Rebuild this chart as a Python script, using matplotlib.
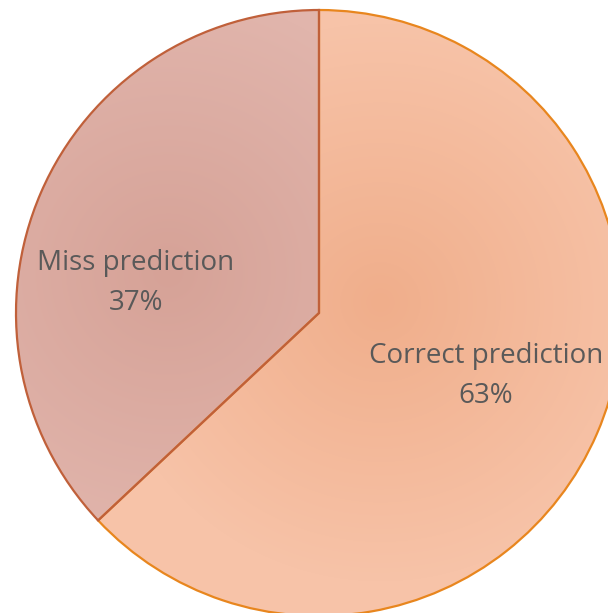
import numpy as np
import matplotlib.pyplot as plt
from matplotlib.colors import LinearSegmentedColormap

# ─────────────────────────────────────────────
# DATA
# ─────────────────────────────────────────────
labels = ["Correct prediction", "Miss prediction"]
shares = [63, 37]

# fill (centre -> rim), edge colours per slice
inner_colors = ["#F0AE8B", "#D6A297"]
outer_colors = ["#F7C3A8", "#E1B5AC"]
edge_colors  = ["#E8861E", "#C0603A"]

W, H = 608, 613
cx, cy, r = 319, 300, 303

fig = plt.figure(figsize=(W / 100, H / 100), dpi=100)
ax = fig.add_axes([0, 0, 1, 1])

wedges, _ = ax.pie(shares, startangle=90, counterclock=False,
                   center=(cx, cy), radius=r,
                   wedgeprops=dict(linewidth=1.6))

# radial gradient fill inside each wedge
yy, xx = np.mgrid[0:H, 0:W]
grad_centres = [(380, 310), (168, 340)]
for w, c_in, c_out, ec, (gx, gy) in zip(wedges, inner_colors, outer_colors,
                                        edge_colors, grad_centres):
    w.set_facecolor("none")
    w.set_edgecolor(ec)
    w.set_zorder(3)
    d = np.hypot(xx - gx, yy - gy) / 280.0
    cmap = LinearSegmentedColormap.from_list("g", [c_in, c_out])
    im = ax.imshow(np.clip(d, 0, 1), cmap=cmap, vmin=0, vmax=1,
                   extent=(0, W, 0, H), origin="lower", zorder=2)
    im.set_clip_path(w)

# labels
txt = dict(color="#595959", fontsize=20, family=["Open Sans", "DejaVu Sans"],
           ha="center", va="center", zorder=5, linespacing=1.55)
ax.text(486, H - 376, f"{labels[0]}\n{shares[0]}%", **txt)
ax.text(136, H - 283, f"{labels[1]}\n{shares[1]}%", **txt)

ax.set_xlim(0, W)
ax.set_ylim(0, H)
ax.set_aspect("auto")
ax.axis("off")

fig.savefig("out.png", dpi=100)
